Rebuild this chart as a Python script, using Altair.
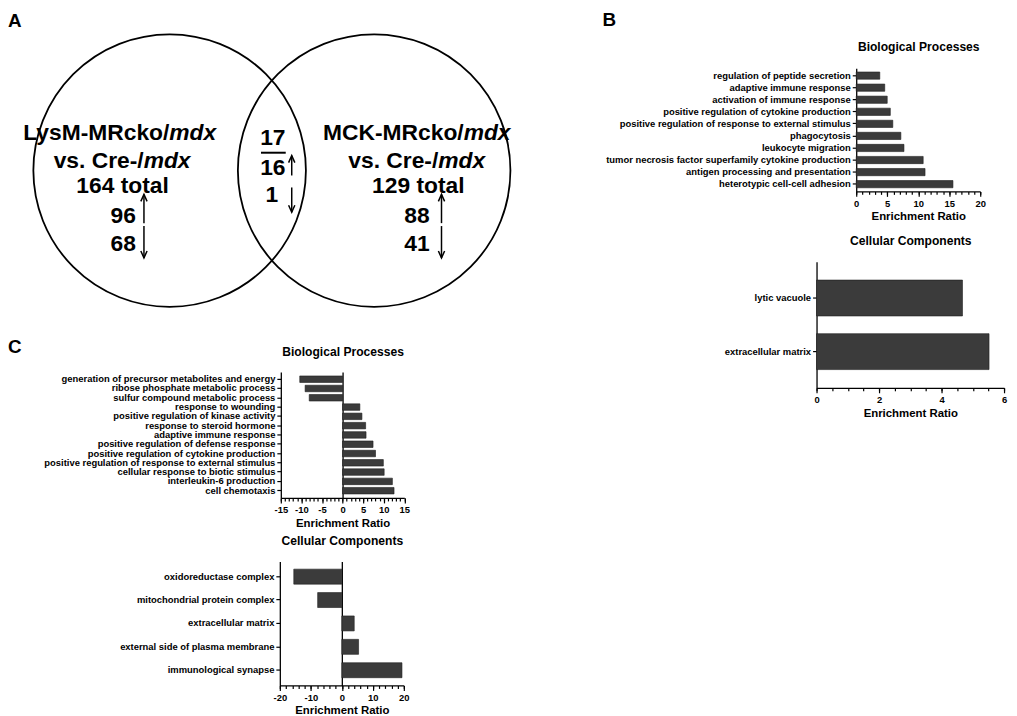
import altair as alt
import pandas as pd
import math

# ---------------- data ----------------
venn_sets = ["LysM-MRcko/mdx vs. Cre-/mdx", "MCK-MRcko/mdx vs. Cre-/mdx"]
venn_totals = [164, 129]
venn_up = [96, 88]
venn_down = [68, 41]
shared_total = 17
shared_up = 16
shared_down = 1

b_bp_terms = [
    "regulation of peptide secretion",
    "adaptive immune response",
    "activation of immune response",
    "positive regulation of cytokine production",
    "positive regulation of response to external stimulus",
    "phagocytosis",
    "leukocyte migration",
    "tumor necrosis factor superfamily cytokine production",
    "antigen processing and presentation",
    "heterotypic cell-cell adhesion",
]
b_bp_ratio = [3.8, 4.6, 5.0, 5.5, 5.9, 7.2, 7.7, 10.8, 11.1, 15.6]

b_cc_terms = ["lytic vacuole", "extracellular matrix"]
b_cc_ratio = [4.67, 5.52]

c_bp_terms = [
    "generation of precursor metabolites and energy",
    "ribose phosphate metabolic process",
    "sulfur compound metabolic process",
    "response to wounding",
    "positive regulation of kinase activity",
    "response to steroid hormone",
    "adaptive immune response",
    "positive regulation of defense response",
    "positive regulation of cytokine production",
    "positive regulation of response to external stimulus",
    "cellular response to biotic stimulus",
    "interleukin-6 production",
    "cell chemotaxis",
]
c_bp_ratio = [-10.4, -9.1, -8.1, 4.2, 4.7, 5.6, 5.7, 7.4, 8.0, 9.9, 10.1, 12.1, 12.5]

c_cc_terms = [
    "oxidoreductase complex",
    "mitochondrial protein complex",
    "extracellular matrix",
    "external side of plasma membrane",
    "immunological synapse",
]
c_cc_ratio = [-15.5, -7.8, 4.0, 5.4, 19.4]

panel_letters = ["A", "B", "C"]

# ---------------- layout / style ----------------
FONT = "Liberation Sans"
BAR = "#3b3b3b"
OX, OY = 8, 8            # page margin
W, H = 1009, 708


def cx(p):
    return p - OX


def cy(p):
    return p - OY


AX = dict(
    labelFont=FONT, labelFontWeight="bold", labelFontSize=9.5, labelColor="black",
    titleFont=FONT, titleFontWeight="bold", titleFontSize=11.5, titleColor="black",
    domainColor="black", tickColor="black", domainWidth=1.3, tickWidth=1.2,
    grid=False, labelOverlap=False, labelFlush=False, labelLimit=400,
)


def bar_panel(terms, ratios, domain, x_px, y_px, pad_in, pad_out, major, minor,
              title, title_y, zero_line):
    df = pd.DataFrame({"term": terms, "ratio": ratios})
    xr = [cx(x_px[0]), cx(x_px[1])]
    yr = [cy(y_px[0]), cy(y_px[1])]

    def xs():
        return alt.Scale(domain=domain, range=xr, nice=False, zero=False)

    def ys():
        return alt.Scale(range=yr, paddingInner=pad_in, paddingOuter=pad_out)

    base = alt.Chart(df)
    bars = base.mark_bar(color=BAR, stroke="#1e1e1e", strokeWidth=0.6).encode(
        y=alt.Y("term:N", sort=terms, scale=ys(),
                axis=alt.Axis(orient="left", offset=-xr[0], title=None,
                              tickSize=4, labelPadding=2, **AX)),
        x=alt.X("ratio:Q", scale=xs(),
                axis=alt.Axis(orient="bottom", offset=yr[1] - H, values=major,
                              labelExpr="'' + datum.value",
                              title="Enrichment Ratio", tickSize=5, labelPadding=2,
                              titlePadding=3, **AX)),
        x2=alt.datum(0),
    )
    if zero_line:
        zero_px = xr[0] + (0 - domain[0]) / (domain[1] - domain[0]) * (xr[1] - xr[0])
        y_axis2 = alt.Axis(orient="left", offset=-zero_px, ticks=False, labels=False,
                           title=None, **AX)
    else:
        y_axis2 = None
    minor_layer = base.mark_point(opacity=0).encode(
        y=alt.Y("term:N", sort=terms, scale=ys(), axis=y_axis2),
        x=alt.X("ratio:Q", scale=xs(),
                axis=alt.Axis(orient="bottom", offset=yr[1] - H, values=minor,
                              labels=False, domain=False, tickSize=3, title=None, **AX)),
    )
    title_layer = base.mark_point(opacity=0).encode(
        y=alt.Y("term:N", sort=terms, scale=ys(), axis=None),
        x=alt.X("ratio:Q", scale=xs(),
                axis=alt.Axis(orient="top", offset=-cy(title_y), ticks=False,
                              labels=False, domain=False, title=title, titleY=0,
                              titleBaseline="middle",
                              **{**AX, "titleFontSize": 12.2})),
    )
    return [bars, minor_layer, title_layer]


def frange(a, b, s):
    n = int(round((b - a) / s))
    return [round(a + i * s, 4) for i in range(n + 1)]


layers = []
layers += bar_panel(b_bp_terms, b_bp_ratio, [0, 20], [863, 988], [60, 184], 0.4, 0.3,
                    frange(0, 20, 5), frange(0, 20, 1), "Biological Processes", 38, False)
layers += bar_panel(b_cc_terms, b_cc_ratio, [0, 6], [823, 1012], [255, 382], 0.33, 0.34,
                    frange(0, 6, 2), frange(0, 6, 0.5), "Cellular Components", 234, False)
layers += bar_panel(c_bp_terms, c_bp_ratio, [-15, 15], [283, 407.5], [366, 493], 0.3, 0.43,
                    frange(-15, 15, 5), frange(-15, 15, 1), "Biological Processes", 345, True)
layers += bar_panel(c_cc_terms, c_cc_ratio, [-20, 20], [282, 407], [557, 682], 0.36, 0.33,
                    frange(-20, 20, 10), frange(-20, 20, 2), "Cellular Components", 536, True)

# ---------------- Venn (units: circle radius = 1) ----------------
R_PX = 155
VENN_CX, VENN_CY = 274, 163
VX = alt.Scale(domain=[-1, 1], range=[cx(VENN_CX - R_PX), cx(VENN_CX + R_PX)], nice=False, zero=False)
VY = alt.Scale(domain=[-1, 1], range=[cy(VENN_CY + R_PX), cy(VENN_CY - R_PX)], nice=False, zero=False)
circle_u = [-0.665, 0.665]


def vxy(df, text=None):
    enc = dict(x=alt.X("u:Q", scale=VX, axis=None), y=alt.Y("v:Q", scale=VY, axis=None))
    if text:
        enc["text"] = alt.Text(text)
    return enc


circ_df = pd.DataFrame({"set": venn_sets, "u": circle_u, "v": [0, 0]})
layers.append(alt.Chart(circ_df).mark_point(
    shape="circle", size=math.pi * R_PX ** 2, filled=False, stroke="black",
    strokeWidth=1.8, opacity=1).encode(**vxy(circ_df)))

# split set names into regular and italic parts
heads, tails = [], []
for s in venn_sets:
    a, b = s.split(" vs. ")
    heads.append((a.split("/")[0] + "/", a.split("/")[1]))
    tails.append(("vs. " + b.split("/")[0] + "/", b.split("/")[1]))

split_u = [(-0.667, -0.834), (1.247, 1.082)]
Y_NAME, Y_VS, Y_TOT, Y_UP, Y_DN = 0.245, 0.065, -0.103, -0.294, -0.477
tot_u = [-0.971, 0.952]
num_right_u = [-0.884, 1.026]
arrow_u = [-0.832, 1.103]

reg_rows, ital_rows, center_rows = [], [], []
for i in range(2):
    reg_rows.append({"t": heads[i][0], "u": split_u[i][0], "v": Y_NAME})
    ital_rows.append({"t": heads[i][1], "u": split_u[i][0], "v": Y_NAME})
    reg_rows.append({"t": tails[i][0], "u": split_u[i][1], "v": Y_VS})
    ital_rows.append({"t": tails[i][1], "u": split_u[i][1], "v": Y_VS})
    reg_rows.append({"t": str(venn_up[i]), "u": num_right_u[i], "v": Y_UP})
    reg_rows.append({"t": str(venn_down[i]), "u": num_right_u[i], "v": Y_DN})
    center_rows.append({"t": f"{venn_totals[i]} total", "u": tot_u[i], "v": Y_TOT})
center_rows += [
    {"t": str(shared_total), "u": 0.006, "v": 0.213},
    {"t": str(shared_up), "u": 0.006, "v": 0.019},
    {"t": str(shared_down), "u": 0.0, "v": -0.161},
]
TXT = dict(font=FONT, fontWeight="bold", fontSize=23, color="black", baseline="middle")
for rows, extra in [(reg_rows, dict(align="right")), (ital_rows, dict(align="left", fontStyle="italic")),
                    (center_rows, dict(align="center"))]:
    d = pd.DataFrame(rows)
    layers.append(alt.Chart(d).mark_text(**TXT, **extra).encode(**vxy(d, "t:N")))

# fraction bar under the shared total
frac = pd.DataFrame({"u": [-0.071], "u2": [0.090], "v": [0.116]})
layers.append(alt.Chart(frac).mark_rule(color="black", strokeWidth=2).encode(
    x=alt.X("u:Q", scale=VX, axis=None), x2="u2:Q", y=alt.Y("v:Q", scale=VY, axis=None)))

# arrows: (u, top, bottom, direction)
arrows = []
for i in range(2):
    arrows.append((arrow_u[i], -0.155, -0.342, "up"))
    arrows.append((arrow_u[i], -0.361, -0.568, "down"))
arrows.append((0.129, 0.097, -0.032, "up"))
arrows.append((0.129, -0.110, -0.271, "down"))
ar_df = pd.DataFrame([{"u": a[0], "v": a[1], "v2": a[2]} for a in arrows])
layers.append(alt.Chart(ar_df).mark_rule(color="black", strokeWidth=1.5).encode(
    x=alt.X("u:Q", scale=VX, axis=None), y=alt.Y("v:Q", scale=VY, axis=None), y2="v2:Q"))
up_df = pd.DataFrame([{"u": a[0], "v": a[1]} for a in arrows if a[3] == "up"])
dn_df = pd.DataFrame([{"u": a[0], "v": a[2]} for a in arrows if a[3] == "down"])
layers.append(alt.Chart(up_df).mark_point(shape="M -0.45 1 L 0 0 L 0.45 1", size=196, filled=False,
                                          stroke="black", strokeWidth=1.5, opacity=1).encode(**vxy(up_df)))
layers.append(alt.Chart(dn_df).mark_point(shape="M -0.45 -1 L 0 0 L 0.45 -1", size=196, filled=False,
                                          stroke="black", strokeWidth=1.5, opacity=1).encode(**vxy(dn_df)))

# panel letters
letter_pos = {"A": (cx(8), cy(12), "left"), "B": (cx(614), cy(11), "center"), "C": (cx(8), cy(341), "left")}
for L in panel_letters:
    px_, py_, al = letter_pos[L]
    d = pd.DataFrame({"t": [L]})
    layers.append(alt.Chart(d).mark_text(font=FONT, fontWeight="bold", fontSize=19, color="black",
                                         align=al, baseline="middle").encode(
        text="t:N", x=alt.value(px_), y=alt.value(py_)))

chart = alt.layer(*layers).resolve_scale(x="independent", y="independent").resolve_axis(
    x="independent", y="independent").properties(width=W, height=H, padding=0, background="white"
).configure_view(strokeWidth=0)

chart.save("out.html", embed_options={"renderer": "svg", "actions": False})
